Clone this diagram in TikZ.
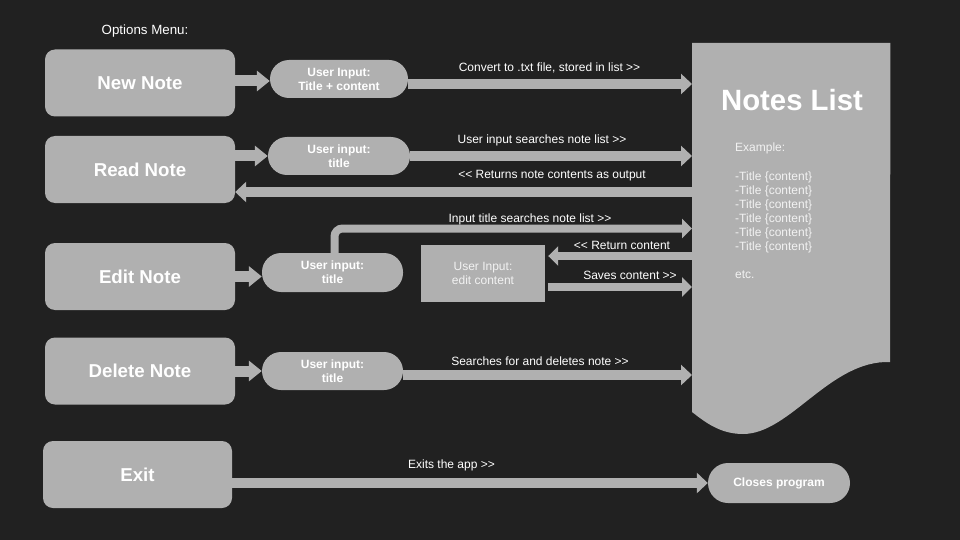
\documentclass[tikz,border=0pt]{standalone}
\usepackage{fontspec}
\setmainfont{Liberation Sans}
\usetikzlibrary{arrows.meta}
\definecolor{bgdark}{HTML}{212121}
\definecolor{boxgray}{HTML}{B0B0B0}
\definecolor{listtext}{HTML}{F2F2F2}

\begin{document}
\begin{tikzpicture}[x=1pt, y=-1pt,
    menubox/.style={fill=boxgray, rounded corners=10pt, minimum width=190pt, minimum height=67pt, inner sep=0pt, text=white, font=\fontsize{18.67}{22}\selectfont\bfseries},
    inputpill/.style={fill=boxgray, rounded corners=19pt, minimum width=141pt, minimum height=38pt, inner sep=0pt, align=center, text=white, font=\fontsize{12}{14}\selectfont\bfseries},
    lbl/.style={text=white, inner sep=0pt, font=\fontsize{12}{14}\selectfont},
    bigarrow/.style={draw=boxgray, line width=10pt, -{Triangle[width=20pt,length=11pt]}},
    smallarrow/.style={draw=boxgray, line width=11pt, -{Triangle[width=20pt,length=13pt]}},
    thinarrow/.style={draw=boxgray, line width=8pt, -{Triangle[width=19pt,length=10pt]}}]
      \fill[bgdark] (0,0) rectangle (960,540);
      \node[lbl, font=\fontsize{13.33}{16}\selectfont] (menutitle) at (145,31) {Options Menu:};

      % menu options
      \node[menubox] (newnote) at (140,83) {New Note};
      \node[menubox] (readnote) at (140,169.5) {Read Note};
      \node[menubox] (editnote) at (140,276.5) {Edit Note};
      \node[menubox] (delnote) at (140,371) {Delete Note};
      \node[menubox, minimum width=189pt] (exitnote) at (137.5,474.5) {Exit};

      % user inputs
      \node[inputpill, minimum width=138pt] (newin) at (339,79) {User Input:\\Title + content};
      \node[inputpill, minimum width=142pt] (readin) at (339,156) {User input:\\title};
      \node[inputpill, minimum height=39pt] (editin) at (332.5,272.5) {User input:\\title};
      \node[inputpill] (delin) at (332.5,371) {User input:\\title};
      \node[inputpill, minimum width=142pt, minimum height=40pt, rounded corners=20pt] (closes) at (779,483) {Closes program};
      \node[fill=boxgray, minimum width=124pt, minimum height=57pt, inner sep=0pt, align=center, text=listtext, font=\fontsize{12}{13.5}\selectfont] (editbox) at (483,273.5) {User Input:\\edit content};

      % notes list
      \node[minimum width=198pt, minimum height=392pt, inner sep=0pt, anchor=north west] (list) at (692,43) {};
      \fill[boxgray] (list.north west) -- (list.north east) -- (890,362) .. controls (830,360) and (790,434) .. (743,434) .. controls (720,434) and (705,422) .. (692,412) -- cycle;
      \node[text=white, font=\fontsize{29.33}{34}\selectfont\bfseries] (listtitle) at (792,100) {Notes List};
      \node[lbl, text=listtext, anchor=west] (example) at (735,148) {Example:};
      \foreach \y in {177,191,...,247}{
        \node[lbl, text=listtext, anchor=west] (entry\y) at (735,\y) {-Title \{content\}};
      }
      \node[lbl, text=listtext, anchor=west] (etc) at (735,275) {etc.};

      % connectors
      \draw[smallarrow] ([yshift=2pt]newnote.east) -- ([yshift=2pt]newnote.east -| newin.west);
      \draw[bigarrow] ([yshift=-5pt]newin.east) -- ([yshift=-5pt]newin.east -| list.west);
      \draw[smallarrow] ([yshift=13.5pt]readnote.east) -- (readin.west);
      \draw[bigarrow] (readin.east) -- (readin.east -| list.west);
      \draw[bigarrow] ([yshift=-22.5pt]readnote.east -| list.west) -- ([yshift=-22.5pt]readnote.east);
      \draw[smallarrow] (editnote.east) -- (editnote.east -| editin.west);
      \draw[thinarrow, rounded corners=8pt] ([xshift=2pt]editin.north) |- ([yshift=-185.5pt]list.north west);
      \draw[thinarrow] ([yshift=17.5pt]editbox.east -| list.west) -- ([yshift=17.5pt, xshift=3pt]editbox.east);
      \draw[thinarrow] ([yshift=-13.5pt, xshift=3pt]editbox.east) -- ([yshift=-13.5pt]editbox.east -| list.west);
      \draw[smallarrow] (delnote.east) -- (delin.west);
      \draw[bigarrow] ([yshift=-4pt]delin.east) -- ([yshift=-4pt]delin.east -| list.west);
      \draw[bigarrow] ([yshift=-8.5pt]exitnote.east) -- (closes.west);

      % connector labels
      \node[lbl] (convlbl) at (549.5,68) {Convert to .txt file, stored in list >{}>};
      \node[lbl] (searchlbl) at (542,140) {User input searches note list >{}>};
      \node[lbl] (returnlbl) at (552,176) {<{}< Returns note contents as output};
      \node[lbl] (inputlbl) at (530,219) {Input title searches note list >{}>};
      \node[lbl] (contentlbl) at (622,245) {<{}< Return content};
      \node[lbl] (saveslbl) at (630,275) {Saves content >{}>};
      \node[lbl] (deletelbl) at (540,361) {Searches for and deletes note >{}>};
      \node[lbl] (exitlbl) at (451.5,465) {Exits the app >{}>};
    \end{tikzpicture}
\end{document}
